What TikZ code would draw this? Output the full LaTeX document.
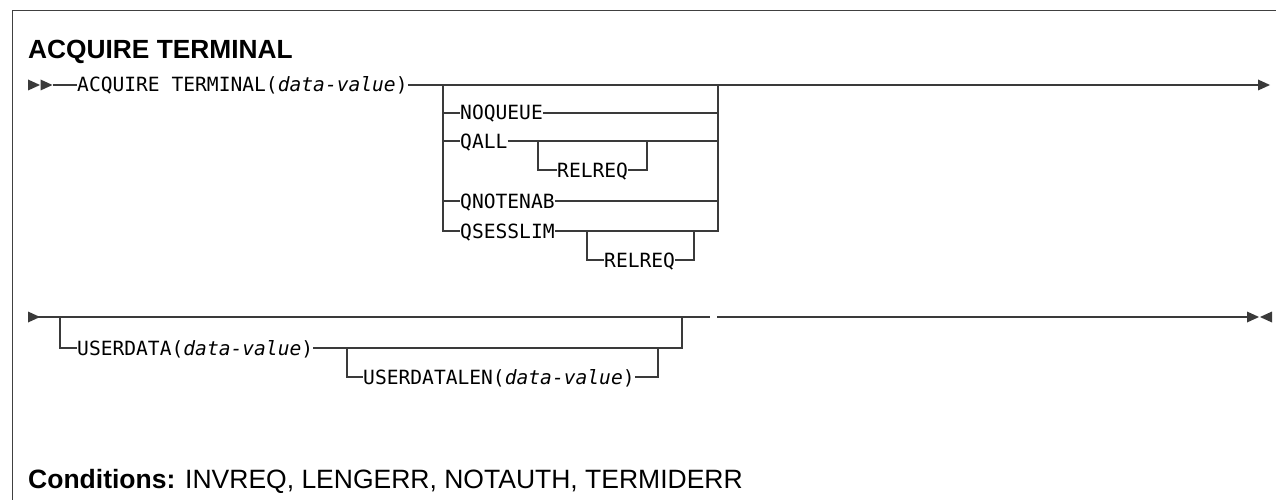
\documentclass[tikz,border=0pt]{standalone}
\usepackage{fontspec}
\setmainfont{Liberation Sans}
\newfontfamily\synmono{DejaVu Sans Mono}
\definecolor{railgray}{HTML}{3A3A3A}
\definecolor{framegray}{HTML}{404040}
\begin{document}
\begin{tikzpicture}[x=1pt, y=-1pt, line join=miter,
	rail/.style={draw=railgray, line width=1.3pt},
	kw/.style={font=\synmono\fontsize{19.6}{20}\selectfont, inner sep=0pt,
		text height=14pt, text depth=0pt, anchor=west},
	]
	\useasboundingbox (0,0) rectangle (1276,500);
	
	% Khung
	\draw[framegray, line width=1pt] (12,500) -- (12,11) -- (1276,11);
	
	% Tiêu đề
	\node[anchor=base west, inner sep=0pt, font=\bfseries\fontsize{26.3}{27}\selectfont] (title) at (28,59) {ACQUIRE TERMINAL};
	
	% Điểm nối
	\foreach \name/\x/\y in {
		m1s/53/85, m1e/1258/85, bL/443/85, bR/718/85,
		r1L/538/141, r1R/647/141, r2L/587/231, r2R/694/231,
		m2s/38/317, m2e/1247/317, uL/60/317, uR/682/317,
		g1/710/317, g2/717/317,
		vL/347/348, vR/658/348
	}{
		\coordinate (\name) at (\x,\y);
	}
	
	% Từ khóa
	\node[kw] (acq) at (77,85) {ACQUIRE TERMINAL(\textit{data-value})};
	\node[kw] (noq) at (460,113) {NOQUEUE};
	\node[kw] (qall) at (460,141) {QALL};
	\node[kw] (rel1) at (557,170) {RELREQ};
	\node[kw] (qnot) at (460,201) {QNOTENAB};
	\node[kw] (qses) at (460,231) {QSESSLIM};
	\node[kw] (rel2) at (604,260) {RELREQ};
	\node[kw] (ud) at (77,348) {USERDATA(\textit{data-value})};
	\node[kw] (udl) at (363,377) {USERDATALEN(\textit{data-value})};
	
	% Đường chính
	\draw[rail] (m1s) -- (acq.west) (acq.east) -- (m1e);
	\draw[rail] (m2s) -- (g1) (g2) -- (m2e);
	
	% Nhánh tùy chọn
	\draw[rail] (bL) |- (noq.west) (bL) |- (qall.west) (bL) |- (qnot.west) (bL) |- (qses.west);
	\draw[rail] (noq.east) -| (bR) (qall.east) -| (bR) (qnot.east) -| (bR) (qses.east) -| (bR);
	\draw[rail] (r1L) |- (rel1.west) (rel1.east) -| (r1R);
	\draw[rail] (r2L) |- (rel2.west) (rel2.east) -| (r2R);
	\draw[rail] (uL) |- (ud.west) (ud.east) -| (uR);
	\draw[rail] (vL) |- (udl.west) (udl.east) -| (vR);
	
	% Mũi tên đầu/cuối
	\foreach \x/\y/\d in {28/85/1, 40.5/85/1, 1258/85/1, 28/317/1, 1247/317/1, 1272/317/-1}{
		\fill[railgray] (\x,\y-5.5) -- ++(12*\d,5.5) -- (\x,\y+5.5) -- cycle;
	}
	
	% Điều kiện
	\node[anchor=base west, inner sep=0pt, font=\fontsize{26.5}{27}\selectfont] (cond) at (28,488) {\textbf{Conditions:} INVREQ, LENGERR, NOTAUTH, TERMIDERR};
\end{tikzpicture}
\end{document}
